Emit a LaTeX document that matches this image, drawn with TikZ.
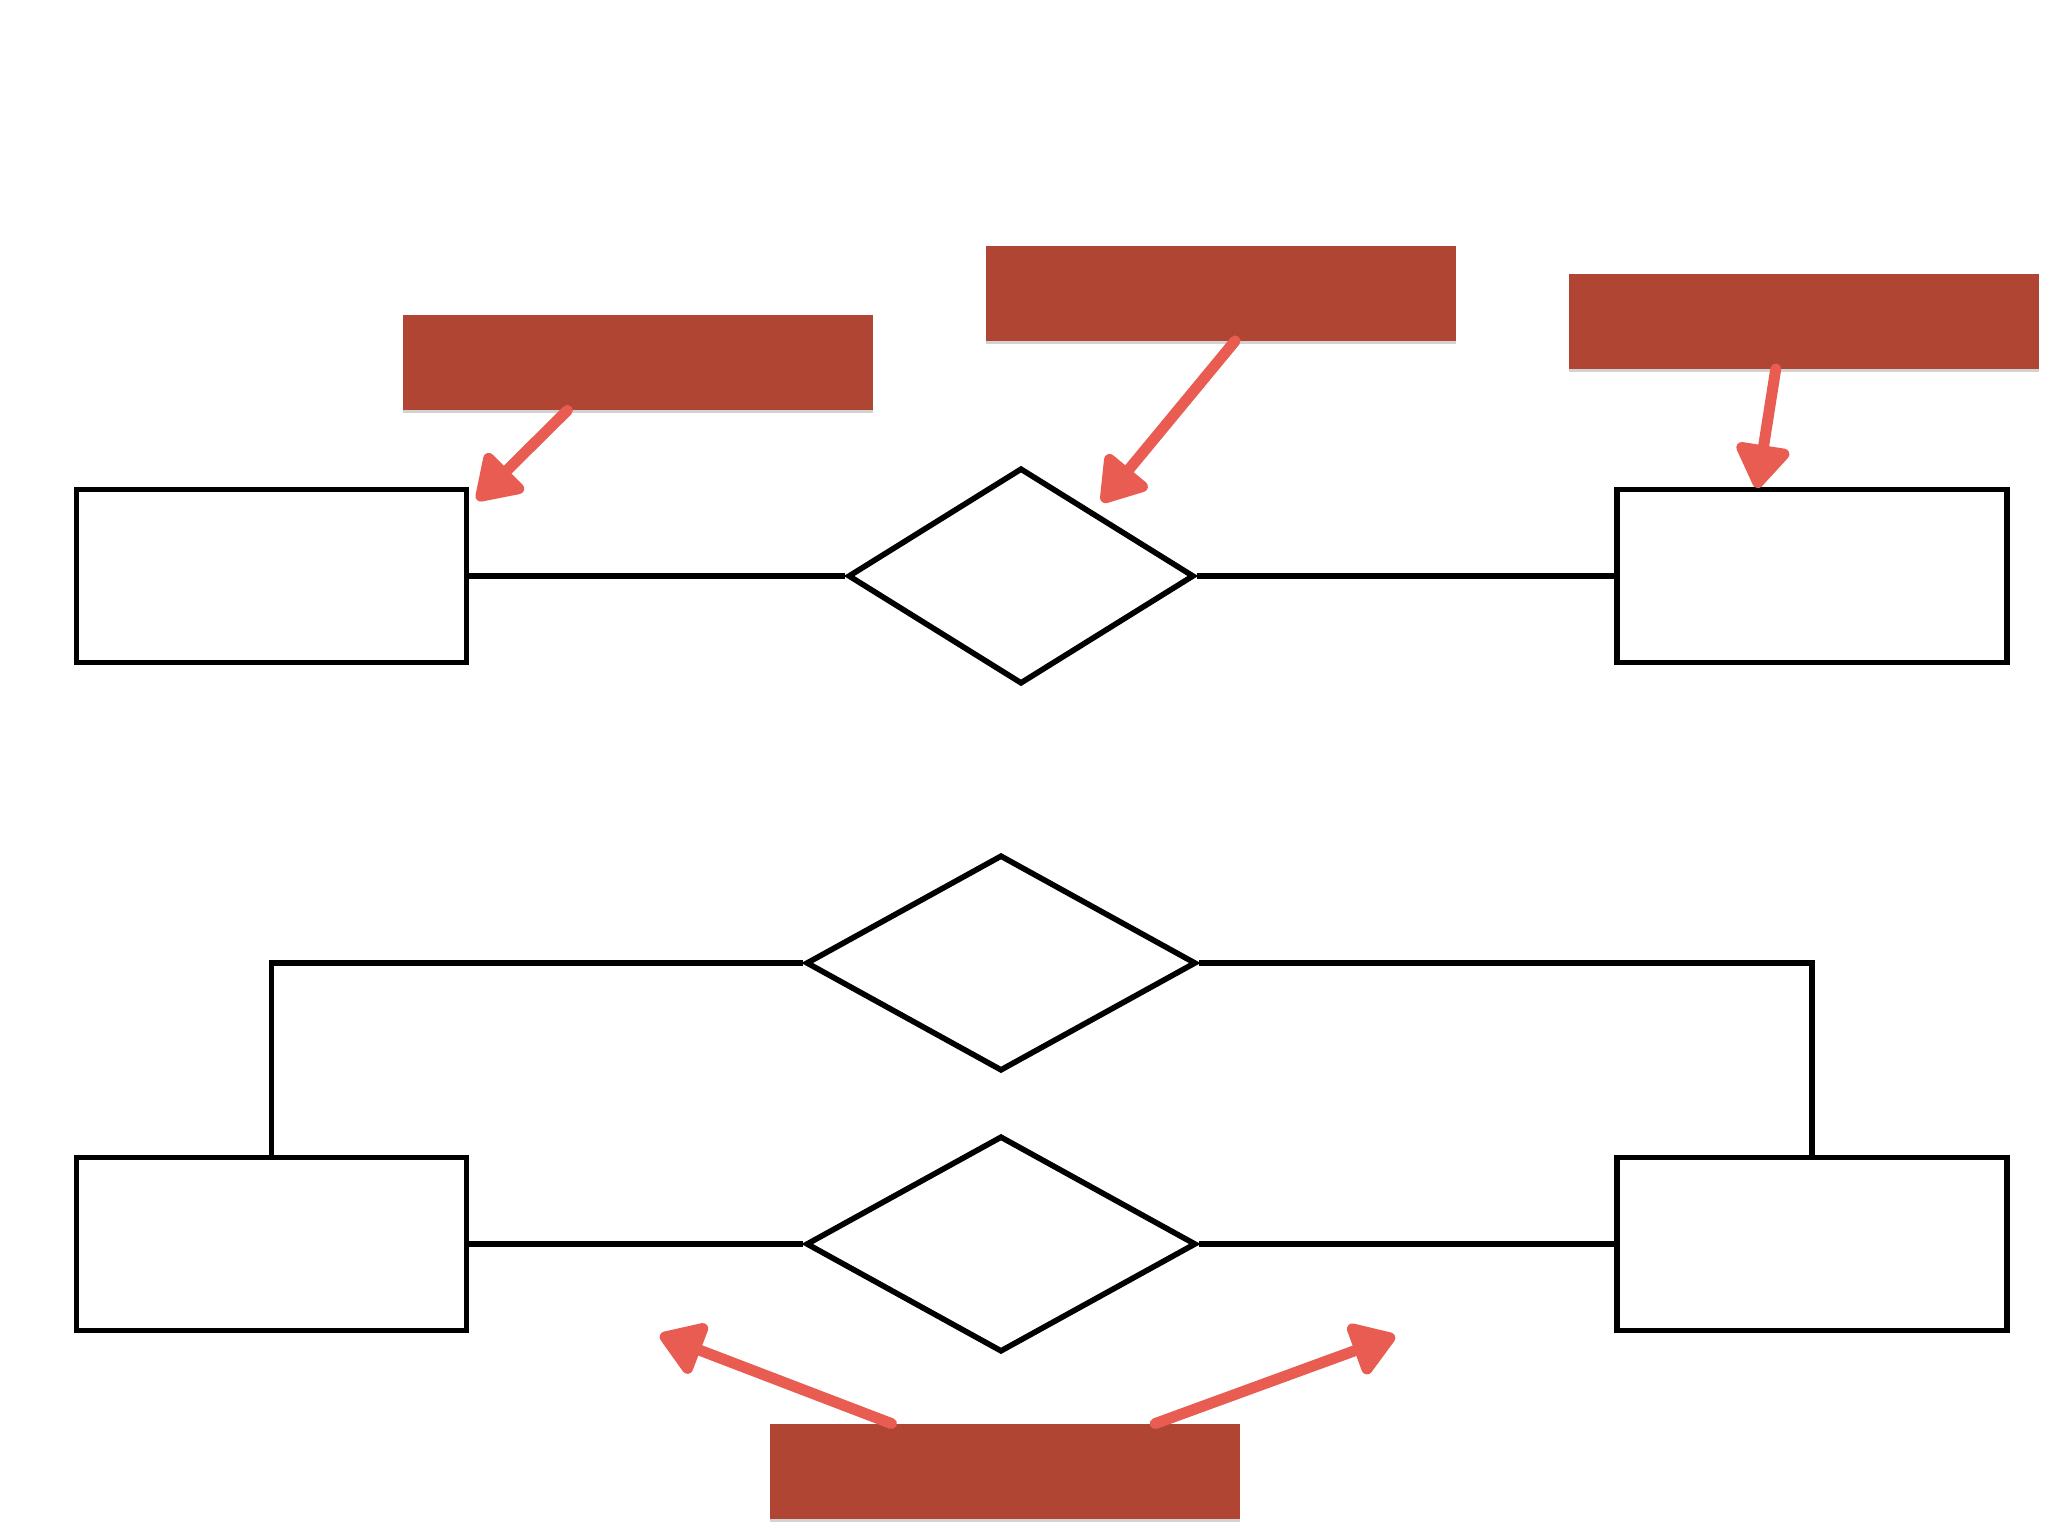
\documentclass[tikz,border=0pt]{standalone}
\usetikzlibrary{shapes.geometric,arrows.meta,calc,shadows}
\definecolor{tagred}{HTML}{B04533}
\definecolor{chalk}{HTML}{E85C52}
\begin{document}
\begin{tikzpicture}[x=0.5pt,y=-0.5pt,
  entity/.style={draw=black,line width=2.8pt,fill=white,minimum width=195pt,minimum height=86.5pt,inner sep=0pt},
  rel/.style={draw=black,line width=2.8pt,fill=white,diamond,inner sep=0pt,minimum width=#1,minimum height=108pt},
  tag/.style={fill=tagred,minimum width=235pt,minimum height=47.5pt,inner sep=0pt,
    drop shadow={shadow xshift=0pt,shadow yshift=-1.5pt,opacity=0.35}},
  link/.style={draw=black,line width=2.8pt},
  pointer/.style={draw=chalk,line width=5.5pt,line cap=round,
    -{Triangle[length=24pt,width=30pt,round]}}]
\useasboundingbox (0,0) rectangle (2048,1536);
\fill[white] (0,0) rectangle (2048,1536);

% first diagram: one relationship between two entities
\node[entity] (e1) at (271.5,576) {};
\node[entity] (e2) at (1812,576) {};
\node[rel=173pt] (d1) at (1021,576) {};
\draw[link] (e1.east) -- (d1.west);
\draw[link] (d1.east) -- (e2.west);

% second diagram: two relationships between the same entities
\node[entity] (e3) at (271.5,1244) {};
\node[entity] (e4) at (1812,1244) {};
\node[rel=195pt] (d2) at (1001,963) {};
\node[rel=195pt] (d3) at (1001,1244) {};
\draw[link] (e3.north) |- (d2.west);
\draw[link] (e4.north) |- (d2.east);
\draw[link] (e3.east) -- (d3.west);
\draw[link] (d3.east) -- (e4.west);

% callout tags
\node[tag] (t1) at (638,362.5) {};
\node[tag] (t2) at (1221,293) {};
\node[tag] (t3) at (1804,321) {};
\node[tag] (t4) at (1004.5,1471.5) {};

% pointer tips
\coordinate (p1) at (477,500);
\coordinate (p2) at (1102,502);
\coordinate (p3) at (1757,488);
\coordinate (p4) at (660,1335);
\coordinate (p5) at (1395,1336);

\draw[pointer] ($(t1.south west)!0.35!(t1.south east)$) -- (p1);
\draw[pointer] ($(t2.south west)!0.53!(t2.south east)$) -- (p2);
\draw[pointer] ($(t3.south west)!0.44!(t3.south east)$) -- (p3);
\draw[pointer] ($(t4.north west)!0.26!(t4.north east)$) -- (p4);
\draw[pointer] ($(t4.north west)!0.82!(t4.north east)$) -- (p5);
\end{tikzpicture}
\end{document}
